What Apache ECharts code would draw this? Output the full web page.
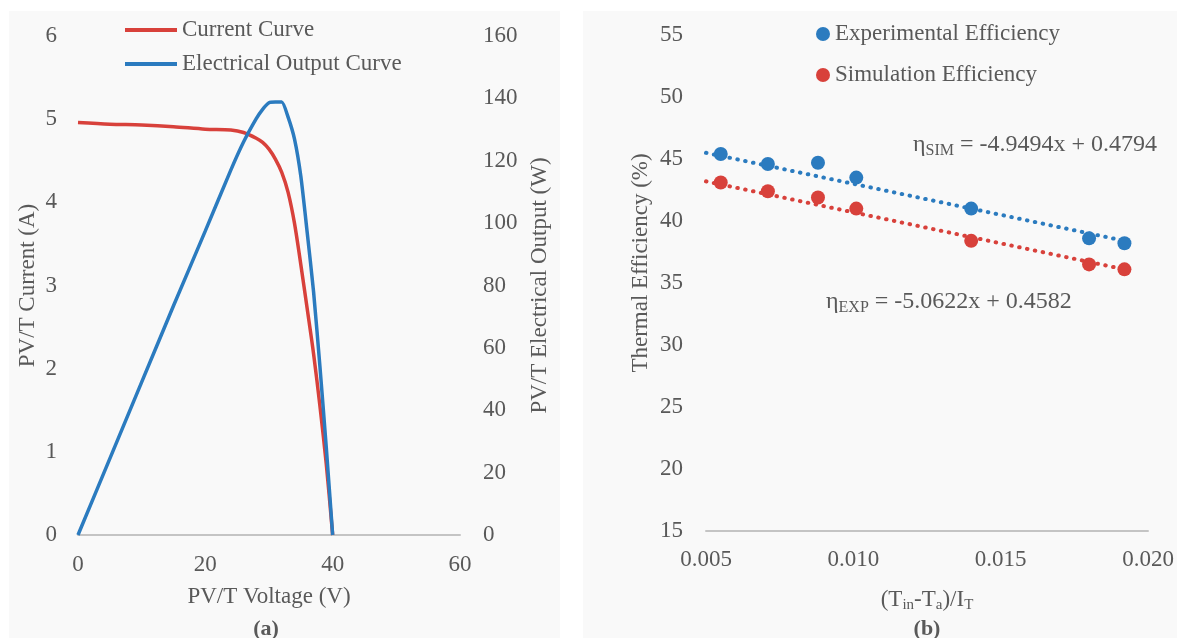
<!DOCTYPE html>
<html>
<head>
<meta charset="utf-8">
<script src="https://cdn.jsdelivr.net/npm/echarts@6/dist/echarts.min.js"></script>
<style>
  html, body { margin: 0; padding: 0; background: #ffffff; }
  #chart { width: 1177px; height: 638px; }
</style>
</head>
<body>
<div id="chart"></div>
<script>
// panel (a): PV/T current and electrical output vs voltage
const voltage = [0, 5, 10, 15, 20, 24, 26, 28, 29, 30, 31, 32, 33, 34, 35, 36, 37, 38, 39, 40];
const current = [4.96, 4.94, 4.93, 4.91, 4.88, 4.87, 4.84, 4.77, 4.72, 4.64, 4.52, 4.36, 4.12, 3.75, 3.25, 2.72, 2.18, 1.55, 0.85, 0];
const power = [0, 24.5, 49, 73.5, 97.5, 117, 126, 133.5, 136.5, 138.6, 138.8, 138.8, 134, 127, 115, 97, 78, 54, 28, 0];

// panel (b): thermal efficiency vs reduced temperature
const reducedTemp = [0.0055, 0.0071, 0.0088, 0.0101, 0.0140, 0.0180, 0.0192];
const effExp = [45.4, 44.6, 44.7, 43.5, 41.0, 38.6, 38.2];
const effSim = [43.1, 42.4, 41.9, 41.0, 38.4, 36.5, 36.1];
// trend line end points
const trendExpX = [0.005, 0.0192];
const trendExpY = [45.5, 38.4];
const trendSimX = [0.005, 0.0192];
const trendSimY = [43.2, 36.1];

const FONT = "'Liberation Serif', 'Times New Roman', 'DejaVu Serif', serif";
const TXT = '#595959';
const RED = '#d8413b';
const BLUE = '#2b7bbf';

const chart = echarts.init(document.getElementById('chart'));

const zip = (xs, ys) => xs.map((x, i) => [x, ys[i]]);

const labelStyle = { color: TXT, fontFamily: FONT, fontSize: 23 };
const nameStyle = { color: TXT, fontFamily: FONT, fontSize: 23 };
const subRich = {
  n: { color: TXT, fill: TXT, fontFamily: FONT, fontSize: 23, lineHeight: 26 },
  s: { color: TXT, fill: TXT, fontFamily: FONT, fontSize: 15, lineHeight: 14, verticalAlign: 'bottom' },
};
const eqRich = {
  n: { fill: TXT, fontFamily: FONT, fontSize: 24, lineHeight: 27 },
  s: { fill: TXT, fontFamily: FONT, fontSize: 16, lineHeight: 14, verticalAlign: 'bottom' },
};

const option = {
  animation: false,
  textStyle: { fontFamily: FONT },
  graphic: [
    { type: 'rect', z: -10, shape: { x: 9, y: 11, width: 551, height: 627 }, style: { fill: '#f9f9f9' } },
    { type: 'rect', z: -10, shape: { x: 583, y: 11, width: 594, height: 627 }, style: { fill: '#f9f9f9' } },
    {
      type: 'text', z: 50, x: 266, y: 629,
      style: { text: '(a)', fill: TXT, fontFamily: FONT, fontSize: 22, fontWeight: 'bold', align: 'center', verticalAlign: 'middle' },
    },
    {
      type: 'text', z: 50, x: 927, y: 629,
      style: { text: '(b)', fill: TXT, fontFamily: FONT, fontSize: 22, fontWeight: 'bold', align: 'center', verticalAlign: 'middle' },
    },
    {
      type: 'text', z: 50, x: 913, y: 145,
      style: { text: '{n|η}{s|SIM}{n| = -4.9494x + 0.4794}', align: 'left', verticalAlign: 'middle', rich: eqRich },
    },
    {
      type: 'text', z: 50, x: 826, y: 302,
      style: { text: '{n|η}{s|EXP}{n| = -5.0622x + 0.4582}', align: 'left', verticalAlign: 'middle', rich: eqRich },
    },
  ],
  legend: [
    {
      data: [
        { name: 'Current Curve', icon: 'rect', itemStyle: { color: RED } },
        { name: 'Electrical Output Curve', icon: 'rect', itemStyle: { color: BLUE } },
      ],
      orient: 'vertical',
      left: 120,
      top: 13,
      itemWidth: 52,
      itemHeight: 4,
      itemGap: 10,
      textStyle: { color: TXT, fontFamily: FONT, fontSize: 23, lineHeight: 24 },
    },
    {
      data: ['Experimental Efficiency', 'Simulation Efficiency'],
      orient: 'vertical',
      left: 811,
      top: 17,
      icon: 'circle',
      itemWidth: 14,
      itemHeight: 14,
      itemGap: 17,
      textStyle: { color: TXT, fontFamily: FONT, fontSize: 23, lineHeight: 24 },
    },
  ],
  grid: [
    { left: 78, right: 717, top: 36, bottom: 103 },
    { left: 706, right: 29, top: 35, bottom: 107 },
  ],
  xAxis: [
    {
      gridIndex: 0,
      type: 'value',
      min: 0,
      max: 60,
      interval: 20,
      name: 'PV/T Voltage (V)',
      nameLocation: 'middle',
      nameGap: 50,
      nameTextStyle: nameStyle,
      axisLine: { lineStyle: { color: '#c4c4c4', width: 2 } },
      axisTick: { show: false },
      splitLine: { show: false },
      axisLabel: Object.assign({ margin: 18 }, labelStyle),
    },
    {
      gridIndex: 1,
      type: 'value',
      min: 0.005,
      max: 0.02,
      interval: 0.005,
      name: '{n|(T}{s|in}{n|-T}{s|a}{n|)/I}{s|T}',
      nameLocation: 'middle',
      nameGap: 56,
      nameTextStyle: { fontFamily: FONT, rich: subRich },
      axisLine: { lineStyle: { color: '#c4c4c4', width: 2 } },
      axisTick: { show: false },
      splitLine: { show: false },
      axisLabel: Object.assign({ margin: 17, formatter: (v) => v.toFixed(3) }, labelStyle),
    },
  ],
  yAxis: [
    {
      gridIndex: 0,
      type: 'value',
      position: 'left',
      min: 0,
      max: 6,
      interval: 1,
      name: 'PV/T Current (A)',
      nameLocation: 'middle',
      nameGap: 39,
      nameTextStyle: nameStyle,
      axisLine: { show: false },
      axisTick: { show: false },
      splitLine: { show: false },
      axisLabel: Object.assign({ margin: 21 }, labelStyle),
    },
    {
      gridIndex: 0,
      type: 'value',
      position: 'right',
      min: 0,
      max: 160,
      interval: 20,
      name: 'PV/T Electrical Output (W)',
      nameLocation: 'middle',
      nameGap: 68,
      nameTextStyle: nameStyle,
      axisLine: { show: false },
      axisTick: { show: false },
      splitLine: { show: false },
      axisLabel: Object.assign({ margin: 23 }, labelStyle),
    },
    {
      gridIndex: 1,
      type: 'value',
      min: 15,
      max: 55,
      interval: 5,
      name: 'Thermal Efficiency (%)',
      nameLocation: 'middle',
      nameGap: 54,
      nameTextStyle: Object.assign({ padding: [0, 0, 0, 40] }, nameStyle),
      axisLine: { show: false },
      axisTick: { show: false },
      splitLine: { show: false },
      axisLabel: Object.assign({ margin: 23 }, labelStyle),
    },
  ],
  series: [
    {
      name: 'Current Curve',
      type: 'line',
      xAxisIndex: 0,
      yAxisIndex: 0,
      data: zip(voltage, current),
      symbol: 'none',
      smooth: 0.3,
      color: RED,
      lineStyle: { color: RED, width: 3.5 },
    },
    {
      name: 'Electrical Output Curve',
      type: 'line',
      xAxisIndex: 0,
      yAxisIndex: 1,
      data: zip(voltage, power),
      symbol: 'none',
      smooth: 0.2,
      color: BLUE,
      lineStyle: { color: BLUE, width: 3.5 },
    },
    {
      name: 'trendExp',
      type: 'line',
      xAxisIndex: 1,
      yAxisIndex: 2,
      data: zip(trendExpX, trendExpY),
      symbol: 'none',
      lineStyle: { color: BLUE, width: 4, type: [0.5, 7.5], cap: 'round' },
      z: 1,
    },
    {
      name: 'trendSim',
      type: 'line',
      xAxisIndex: 1,
      yAxisIndex: 2,
      data: zip(trendSimX, trendSimY),
      symbol: 'none',
      lineStyle: { color: RED, width: 4, type: [0.5, 7.5], cap: 'round' },
      z: 1,
    },
    {
      name: 'Experimental Efficiency',
      type: 'scatter',
      xAxisIndex: 1,
      yAxisIndex: 2,
      data: zip(reducedTemp, effExp),
      symbolSize: 14,
      color: BLUE,
      itemStyle: { color: BLUE, opacity: 1 },
      z: 3,
    },
    {
      name: 'Simulation Efficiency',
      type: 'scatter',
      xAxisIndex: 1,
      yAxisIndex: 2,
      data: zip(reducedTemp, effSim),
      symbolSize: 14,
      color: RED,
      itemStyle: { color: RED, opacity: 1 },
      z: 3,
    },
  ],
};

chart.setOption(option);
</script>
</body>
</html>
